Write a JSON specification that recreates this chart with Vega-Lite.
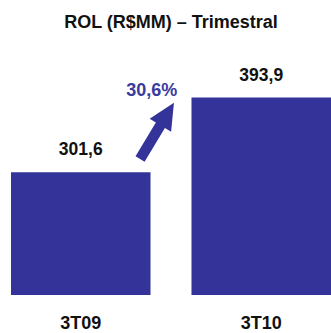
{
  "$schema": "https://vega.github.io/schema/vega-lite/v6.json",
  "autosize": {"type": "none"},
  "padding": {"left": 11, "top": 40, "right": 0, "bottom": 38},
  "width": 320,
  "height": 255,
  "background": "white",
  "title": {
    "text": "ROL (R$MM) – Trimestral",
    "font": "Liberation Sans",
    "fontSize": 18,
    "fontWeight": "bold",
    "color": "#111111",
    "anchor": "middle",
    "offset": 8
  },
  "config": {"view": {"stroke": null}},
  "datasets": {
    "bars": [
      {"periodo": "3T09", "rol": 301.6, "rotulo": "301,6"},
      {"periodo": "3T10", "rol": 393.9, "rotulo": "393,9"}
    ],
    "seta": [
      {"px": 146, "py": 352.8, "texto": "30,6%", "tx": 140.7, "ty": 396}
    ]
  },
  "layer": [
    {
      "data": {"name": "bars"},
      "layer": [
        {
          "mark": {"type": "bar", "color": "#333399"},
          "encoding": {
            "x": {
              "field": "periodo", "type": "nominal",
              "scale": {"paddingInner": 0.227, "paddingOuter": 0},
              "axis": {
                "title": null, "domain": false, "ticks": false,
                "labelAngle": 0,
                "labelFont": "Liberation Sans",
                "labelFontSize": 18, "labelFontWeight": "bold",
                "labelColor": "#111111",
                "labelBaseline": "alphabetic",
                "labelPadding": 33
              }
            },
            "y": {
              "field": "rol", "type": "quantitative",
              "scale": {"domain": [150, 465], "zero": false, "nice": false},
              "axis": null
            },
            "y2": {"datum": 150}
          }
        },
        {
          "mark": {"type": "text", "font": "Liberation Sans", "fontSize": 17.5, "fontWeight": "bold", "color": "#111111", "baseline": "alphabetic", "dy": -17},
          "encoding": {
            "x": {"field": "periodo", "type": "nominal"},
            "y": {"field": "rol", "type": "quantitative", "scale": {"domain": [150, 465], "zero": false, "nice": false}},
            "text": {"field": "rotulo"}
          }
        }
      ]
    },
    {
      "data": {"name": "seta"},
      "layer": [
        {
          "mark": {
            "type": "point",
            "shape": "M0,-1L0.38,-0.2L0.16,-0.2L0.16,1L-0.16,1L-0.16,-0.2L-0.38,-0.2Z",
            "size": 4330,
            "angle": 31,
            "filled": true,
            "opacity": 1,
            "color": "#333399",
            "strokeWidth": 0
          },
          "encoding": {
            "x": {"field": "px", "type": "quantitative", "scale": {"domain": [0, 320], "nice": false}, "axis": null},
            "y": {"field": "py", "type": "quantitative", "scale": {"domain": [150, 465], "zero": false, "nice": false}}
          }
        },
        {
          "mark": {"type": "text", "font": "Liberation Sans", "fontSize": 18, "fontWeight": "bold", "color": "#3B3B9E", "baseline": "alphabetic"},
          "encoding": {
            "x": {"field": "tx", "type": "quantitative", "scale": {"domain": [0, 320], "nice": false}, "axis": null},
            "y": {"field": "ty", "type": "quantitative", "scale": {"domain": [150, 465], "zero": false, "nice": false}},
            "text": {"field": "texto"}
          }
        }
      ]
    }
  ],
  "resolve": {"scale": {"x": "independent"}}
}
